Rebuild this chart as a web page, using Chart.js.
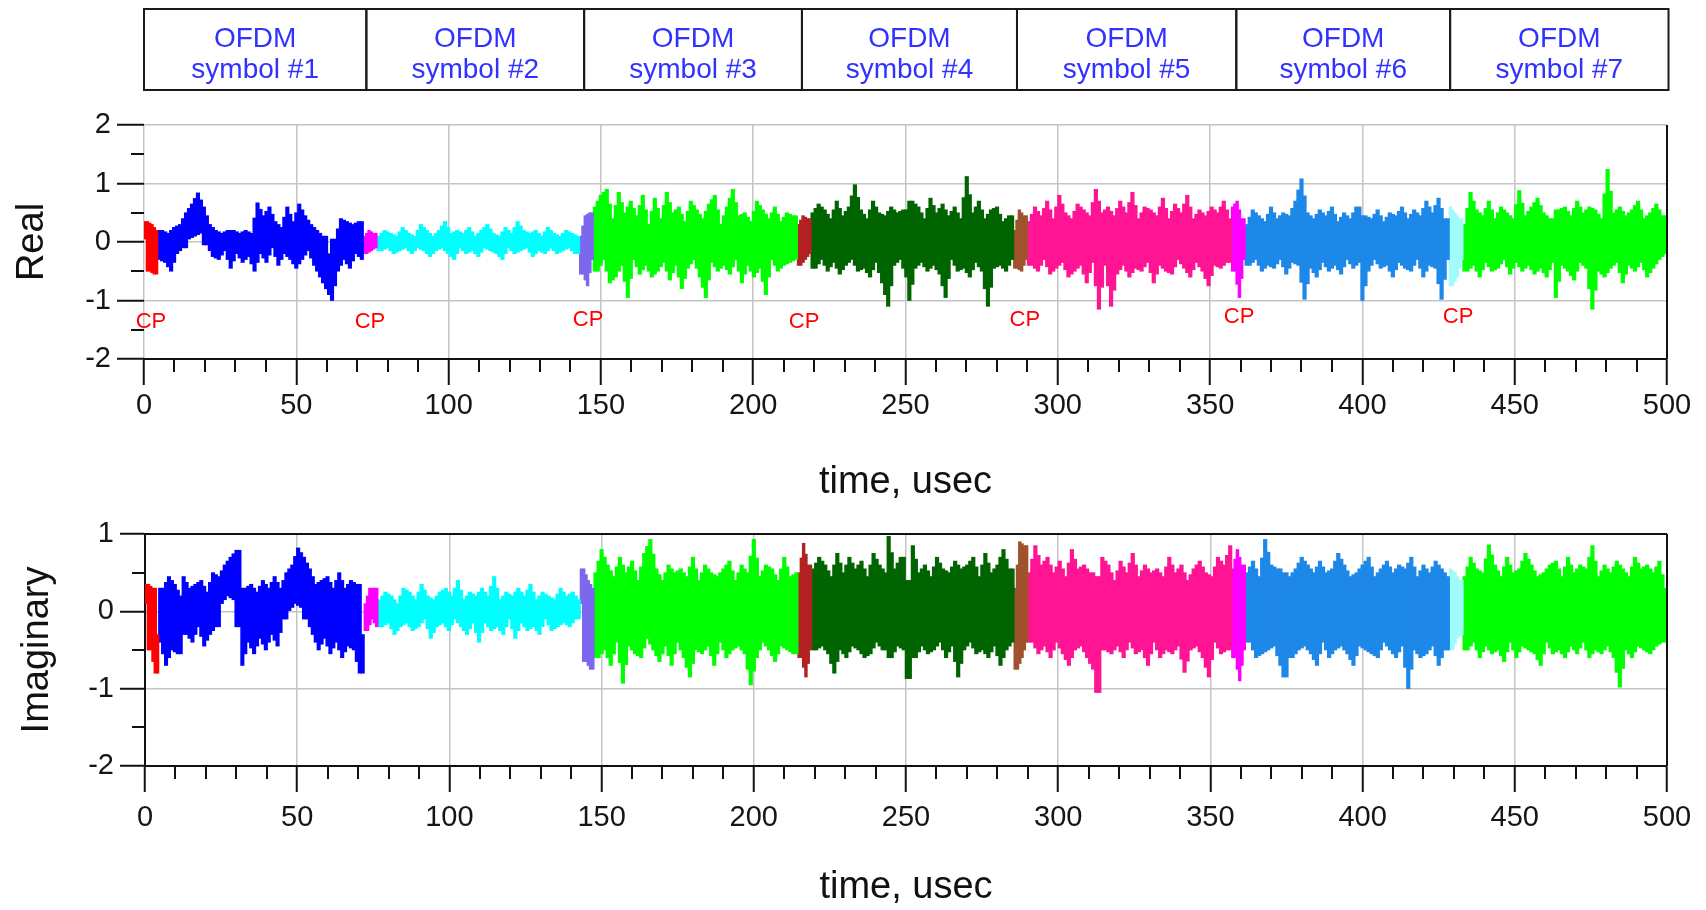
<!DOCTYPE html>
<html>
<head>
<meta charset="utf-8">
<script src="https://cdn.jsdelivr.net/npm/chart.js@4.4.0/dist/chart.umd.min.js"></script>
<style>
  html, body { margin: 0; padding: 0; background: #fff; }
  #wrap { position: relative; width: 1706px; height: 910px; overflow: hidden; }
  #realChart { position: absolute; left: 0; top: 0; }
  #imagChart { position: absolute; left: 0; top: 510px; }
</style>
</head>
<body>
<div id="wrap">
  <canvas id="realChart" width="1706" height="510"></canvas>
  <canvas id="imagChart" width="1706" height="400"></canvas>
</div>
<script>
// time segments (usec): CP, symbol, CP, symbol ...
const segStart = [0, 4.5, 72, 76.5, 143, 147.5, 214.5, 219, 285.5, 290, 357, 361.5, 428.5, 433];
const segEnd = [4.5, 72, 76.5, 143, 147.5, 214.5, 219, 285.5, 290, 357, 361.5, 428.5, 433, 500];
const segColors = ['#ff0000', '#0000ff', '#ff00ff', '#00ffff', '#7b68ee', '#00ff00', '#b22222',
                   '#006400', '#a0522d', '#ff1493', '#ff00ff', '#1e88e8', '#a0fcfc', '#00ff00'];

// header boxes above the top plot
const symbolEdges = [0, 73, 144.5, 216, 286.6, 358.6, 428.8, 500.5];
const symbolLabels = ['symbol #1', 'symbol #2', 'symbol #3', 'symbol #4', 'symbol #5', 'symbol #6', 'symbol #7'];

// "CP" markers in the top plot
const cpLabelT = [2.3, 74.2, 145.8, 216.7, 289.2, 359.5, 431.4];
const cpLabelY = [-1.37, -1.37, -1.34, -1.37, -1.34, -1.28, -1.28];

const xTicks = [0, 50, 100, 150, 200, 250, 300, 350, 400, 450, 500];

// Real part
const re_cp1 = [0.05, 0.35, -0.5, 0.3, -0.55, 0.2];
const re_sym1 = [-0.3, 0.2, -0.35, 0.15, -0.5, 0.25, -0.2,
  0.3, -0.1, 0.5, 0.05, 0.65, 0.1, 0.84, 0.15, 0.6, -0.05,
  0.3, -0.25, 0.2, -0.3, 0.15, -0.15, 0.2, -0.45, 0.2, -0.2, 0.15, -0.35, 0.2, -0.25,
  0.15, -0.5, 0.67, -0.2, 0.45, -0.35, 0.6, -0.1, 0.35, -0.4, 0.25,
  -0.2, 0.6, -0.3, 0.35, -0.45, 0.65, -0.3, 0.45, -0.15, 0.3,
  -0.4, 0.2, -0.6, 0.1, -0.8, -0.2, -1.0, 0.05,
  -0.5, 0.4, -0.3, 0.35, -0.45, 0.3, -0.2, 0.35, -0.3];
const re_cp2 = [0.1, -0.2, 0.2, -0.15, 0.15, -0.1];
const re_sym2 = [0.1, -0.15, 0.2, -0.1, 0.15, -0.2, 0.1, -0.15, 0.25, -0.1, 0.15, -0.2, 0.1, -0.1,
  0.3, -0.15, 0.2, -0.25, 0.1, -0.15, 0.2, -0.1, 0.35, -0.2, 0.15, -0.3, 0.2, -0.1, 0.15, -0.2,
  0.25, -0.15, 0.1, -0.25, 0.2, -0.1, 0.3, -0.15, 0.15, -0.2, 0.1, -0.3, 0.25, -0.1, 0.15, -0.2,
  0.35, -0.15, 0.2, -0.1, 0.15, -0.25, 0.2, -0.15, 0.1, -0.2, 0.25, -0.1, 0.15, -0.2, 0.1, -0.15,
  0.2, -0.1, 0.15, -0.2, 0.1];
const re_cp3 = [0.1, -0.55, 0.45, -0.75, 0.5, -0.3];
const re_sym3 = [0.6, -0.5, 0.8, -0.3, 0.9, -0.7, 0.4, -0.6, 0.85, -0.4, 0.5, -0.95, 0.7, -0.3,
  0.45, -0.55, 0.8, -0.4, 0.3, -0.6, 0.75, -0.5, 0.4, -0.35, 0.85, -0.65, 0.5, -0.4, 0.6, -0.8,
  0.35, -0.45, 0.7, -0.3, 0.55, -0.6, 0.4, -0.95, 0.65, -0.35, 0.8, -0.5, 0.3, -0.4, 0.6, -0.55,
  0.9, -0.3, 0.45, -0.7, 0.5, -0.4, 0.35, -0.6, 0.7, -0.45, 0.55, -0.9, 0.4, -0.3, 0.6, -0.5,
  0.35, -0.4, 0.5, -0.35, 0.45, -0.3];
const re_cp4 = [0.3, -0.4, 0.45, -0.3, 0.4, -0.2];
const re_sym4 = [0.5, -0.45, 0.65, -0.3, 0.55, -0.5, 0.4, -0.35, 0.7, -0.55, 0.45, -0.4, 0.6, -0.3,
  0.98, -0.5, 0.55, -0.45, 0.4, -0.6, 0.7, -0.35, 0.5, -0.7, 0.45, -1.1, 0.6, -0.4, 0.5, -0.3,
  0.55, -0.6, -1.0, 0.7, -0.45, 0.6, -0.35, 0.4, -0.5, 0.75, -0.4, 0.5, -0.55, 0.65, -0.95, 0.45,
  -0.3, 0.6, -0.5, 0.4, -0.45, 1.12, -0.6, 0.5, -0.35, 0.7, -0.5, 0.4, -1.1, 0.55, -0.45, 0.6,
  -0.4, 0.35, -0.5, 0.45, -0.3];
const re_cp5 = [0.2, -0.45, 0.55, -0.5, 0.45, -0.3];
const re_sym5 = [0.35, -0.4, 0.6, -0.5, 0.45, -0.3, 0.7, -0.55, 0.4, -0.45, 0.8, -0.35, 0.5, -0.6,
  0.4, -0.5, 0.65, -0.4, 0.55, -0.7, 0.45, -0.35, 0.9, -1.15, 0.5, -0.4, 0.6, -1.1, 0.45, -0.55,
  0.7, -0.4, 0.5, -0.6, 0.85, -0.45, 0.4, -0.5, 0.6, -0.35, 0.55, -0.7, 0.45, -0.4, 0.75, -0.5,
  0.4, -0.55, 0.65, -0.3, 0.5, -0.45, 0.8, -0.6, 0.4, -0.35, 0.55, -0.5, 0.45, -0.75, 0.6, -0.4,
  0.5, -0.45, 0.7, -0.35, 0.4];
const re_cp6 = [0.6, -0.5, 0.7, -0.95, 0.4, -0.3];
const re_sym6 = [0.3, -0.4, 0.55, -0.3, 0.45, -0.5, 0.35, -0.4, 0.6, -0.45, 0.4, -0.3, 0.5, -0.55,
  0.45, -0.35, 0.7, -0.4, 1.08, -0.98, 0.5, -0.45, 0.4, -0.6, 0.55, -0.35, 0.45, -0.5, 0.6, -0.4,
  0.35, -0.55, 0.5, -0.3, 0.4, -0.45, 0.6, -0.35, -1.0, 0.45, -0.5, 0.4, -0.3, 0.55, -0.45, 0.35,
  -0.4, 0.5, -0.6, 0.45, -0.35, 0.6, -0.45, 0.4, -0.5, 0.55, -0.3, 0.45, -0.6, 0.7, -0.4, 0.5,
  -0.45, 0.75, -0.98, 0.4, -0.3];
const re_cp7 = [0.6, -0.75, 0.5, -0.6, 0.4, -0.3];
const re_sym7 = [0.3, -0.5, 0.85, -0.4, 0.55, -0.6, 0.45, -0.35, 0.7, -0.5,
  0.4, -0.45, 0.6, -0.3, 0.5, -0.55, 0.4, -0.35, 0.88, -0.5,
  0.45, -0.4, 0.6, -0.55, 0.75, -0.45, 0.5, -0.6, 0.4, -0.35,
  -0.95, 0.55, -0.4, 0.6, -0.5, 0.45, -0.65, 0.7, -0.35, 0.5,
  -0.45, 0.6, -1.15, 0.55, -0.5, 0.4, -0.6, 1.24, -0.45, 0.5,
  -0.35, 0.6, -0.7, 0.45, -0.4, 0.55, -0.5, 0.7, -0.35, 0.4,
  -0.6, 0.5, -0.45, 0.65, -0.3, 0.45, -0.2];

// Imaginary part
const im_cp1 = [0.1, 0.35, -0.5, 0.3, -0.8, -0.3];
const im_sym1 = [-0.4, 0.3, -0.7, 0.45, -0.5, 0.35, -0.55, 0.2,
  0.45, -0.3, 0.3, -0.4, 0.35, -0.2, 0.4, -0.45, 0.25, -0.3, 0.5, -0.2, 0.45,
  0.1, 0.6, 0.2, 0.7, 0.15, 0.79, -0.2, -0.7,
  0.3, -0.4, 0.35, -0.55, 0.25, -0.35, 0.4, -0.5, 0.3, -0.3, 0.45, -0.45, 0.3, -0.1,
  0.5, 0, 0.6, 0.1, 0.82, 0.05, 0.7, -0.1, 0.55, -0.3,
  0.35, -0.5, 0.4, -0.35, 0.45, -0.55, 0.3, -0.4, 0.5, -0.6, 0.3, -0.45, 0.4, -0.5, 0.35, -0.8, -0.3];
const im_cp2 = [0.1, -0.25, 0.3, -0.1, 0.3, -0.2];
const im_sym2 = [0.15, -0.2, 0.25, -0.15, 0.2, -0.3, 0.1, -0.2, 0.3, -0.15, 0.25, -0.25, 0.15, -0.2,
  0.35, -0.1, 0.2, -0.35, 0.15, -0.2, 0.25, -0.15, 0.3, -0.25, 0.2, -0.1, 0.4, -0.2, 0.15, -0.3,
  0.25, -0.15, 0.2, -0.4, 0.3, -0.15, 0.2, -0.25, 0.45, -0.2, 0.15, -0.3, 0.25, -0.1, 0.2, -0.35,
  0.3, -0.15, 0.2, -0.25, 0.35, -0.2, 0.15, -0.3, 0.25, -0.1, 0.2, -0.25, 0.15, -0.2, 0.3, -0.15,
  0.2, -0.2, 0.25, -0.1, 0.15];
const im_cp3 = [0.1, 0.55, -0.65, 0.4, -0.75, 0.3];
const im_sym3 = [0.5, -0.6, 0.8, -0.5, 0.6, -0.7, 0.45, -0.4, 0.7, -0.93, 0.5, -0.45, 0.65, -0.55,
  0.4, -0.6, 0.75, -0.35, 0.93, -0.5, 0.55, -0.65, 0.4, -0.45, 0.6, -0.7, 0.5, -0.4, 0.55, -0.6,
  0.45, -0.85, 0.7, -0.5, 0.4, -0.55, 0.6, -0.45, 0.5, -0.7, 0.45, -0.4, 0.55, -0.6, 0.65, -0.5,
  0.4, -0.45, 0.6, -0.55, 0.5, -0.95, 0.93, -0.6, 0.45, -0.4, 0.6, -0.5, 0.55, -0.65, 0.4, -0.45,
  0.7, -0.5, 0.45, -0.55, 0.5];
const im_cp4 = [0.5, -0.6, 0.88, -0.85, 0.6, -0.5];
const im_sym4 = [0.55, -0.5, 0.7, -0.45, 0.6, -0.55, 0.45, -0.8, 0.75, -0.5, 0.5, -0.6, 0.7, -0.45,
  0.55, -0.5, 0.65, -0.6, 0.45, -0.55, 0.75, -0.4, 0.6, -0.5, 0.5, 0.97, -0.6, 0.55, -0.45, 0.7,
  -0.5, -0.87, 0.4, 0.85, -0.6, 0.5, -0.45, 0.6, -0.55, 0.45, -0.5, 0.7, -0.4, 0.55, -0.6, 0.5,
  -0.45, 0.65, -0.85, 0.55, -0.5, 0.6, -0.4, 0.7, -0.55, 0.45, -0.5, 0.75, -0.6, 0.5, -0.45, 0.6,
  -0.7, 0.8, -0.5, 0.55, -0.4];
const im_cp5 = [0.3, -0.75, 0.9, -0.6, 0.85, -0.4];
const im_sym5 = [0.5, -0.4, 0.85, -0.55, 0.6, -0.45, 0.7, -0.6, 0.5, -0.4, 0.65, -0.55, 0.45, -0.7,
  0.8, -0.5, 0.55, -0.45, 0.6, -0.6, 0.5, -0.75, -1.05, 0.45, 0.7, -0.5, 0.6, -0.55, 0.4, -0.45,
  0.65, -0.6, 0.5, -0.4, 0.75, -0.55, 0.45, -0.5, 0.6, -0.7, 0.5, -0.4, 0.55, -0.6, 0.45, -0.5,
  0.7, -0.55, 0.5, -0.45, 0.6, -0.79, 0.4, -0.5, 0.55, -0.45, 0.65, -0.6, 0.5, -0.85, 0.45, -0.4,
  0.7, -0.55, 0.6, -0.5, 0.85];
const im_cp6 = [0.55, -0.6, 0.8, -0.9, 0.6, -0.5];
const im_sym6 = [0.5, -0.4, 0.65, -0.6, 0.45, -0.55, 0.93, -0.5, 0.6, -0.45, 0.55, -0.7, -0.85, 0.5,
  0.45, -0.6, 0.55, -0.5, 0.7, -0.45, 0.6, -0.55, 0.5, -0.7, 0.65, -0.4, 0.5, -0.6, 0.55, -0.5,
  0.75, -0.45, 0.6, -0.55, 0.45, -0.7, 0.5, -0.45, 0.6, -0.5, 0.7, -0.55, 0.45, -0.6, 0.55, -0.4,
  0.65, -0.5, 0.5, -0.6, 0.6, -0.45, 0.55, -1.0, 0.7, -0.5, 0.45, -0.6, 0.6, -0.55, 0.5, -0.45,
  0.65, -0.7, 0.55, -0.5, 0.45];
const im_cp7 = [0.55, -0.5, 0.5, -0.35, 0.4, -0.3];
const im_sym7 = [0.45, -0.5, 0.7, -0.4, 0.55, -0.6, 0.5, -0.45, 0.86, -0.55, 0.6, -0.5, 0.45, -0.65,
  0.7, -0.4, 0.5, -0.6, 0.55, -0.45, 0.75, -0.5, 0.6, -0.55, 0.45, -0.7, 0.5, -0.4, 0.6, -0.55,
  0.65, -0.5, 0.45, -0.6, 0.7, -0.45, 0.5, -0.55, 0.6, -0.4, 0.55, -0.6, 0.85, -0.5, 0.45, -0.55,
  0.6, -0.45, 0.5, -0.6, 0.65, -0.98, 0.55, -0.5, 0.45, -0.6, 0.7, -0.45, 0.55, -0.5, 0.6, -0.55,
  0.5, -0.45, 0.65, -0.4, 0.3];

const realSegments = [re_cp1, re_sym1, re_cp2, re_sym2, re_cp3, re_sym3, re_cp4,
                      re_sym4, re_cp5, re_sym5, re_cp6, re_sym6, re_cp7, re_sym7];
const imagSegments = [im_cp1, im_sym1, im_cp2, im_sym2, im_cp3, im_sym3, im_cp4,
                      im_sym4, im_cp5, im_sym5, im_cp6, im_sym6, im_cp7, im_sym7];

const FONT = '"Liberation Sans", Arial, sans-serif';
const GRID = '#c4c4c4';
const PX_PER_US = (1667 - 144) / 500;

// each sample is drawn as a thin vertical stroke, from its own value to the level of its
// neighbours (the opposite-sign ones when there are any), like a dense waveform column
function buildDatasets(segments) {
    return segments.map((vals, k) => {
        const dt = (segEnd[k] - segStart[k]) / vals.length;
        const data = vals.map((v, i) => {
            const nb = [];
            if (i > 0) nb.push(vals[i - 1]);
            if (i < vals.length - 1) nb.push(vals[i + 1]);
            const opp = nb.filter(n => n * v < 0);
            const use = opp.length ? opp : nb;
            const mid = use.reduce((a, b) => a + b, 0) / use.length;
            return { x: segStart[k] + (i + 0.5) * dt, y: [Math.min(v, mid), Math.max(v, mid)] };
        });
        return {
            data: data,
            backgroundColor: segColors[k],
            borderWidth: 0,
            borderSkipped: false,
            grouped: false,
            barThickness: dt * PX_PER_US + 0.5
        };
    });
}

// minor ticks, frame, header boxes and CP labels
const decorPlugin = {
    id: 'decor',
    afterDatasetsDraw(chart, args, opts) {
        const ctx = chart.ctx;
        const x = chart.scales.x;
        const y = chart.scales.y;
        const area = chart.chartArea;
        ctx.save();
        ctx.strokeStyle = '#111';
        ctx.lineWidth = 2;
        ctx.beginPath();
        for (let t = 10; t < 500; t += 10) {
            if (t % 50 === 0) continue;
            const px = Math.round(x.getPixelForValue(t));
            ctx.moveTo(px, area.bottom);
            ctx.lineTo(px, area.bottom + 13);
        }
        for (let v = y.min + 0.5; v < y.max; v += 1) {
            const py = Math.round(y.getPixelForValue(v));
            ctx.moveTo(area.left - 13, py);
            ctx.lineTo(area.left, py);
        }
        // right edge of the frame
        ctx.moveTo(area.right, area.top);
        ctx.lineTo(area.right, area.bottom);
        if (opts.topBorder) {
            ctx.moveTo(area.left, area.top);
            ctx.lineTo(area.right, area.top);
        }
        ctx.stroke();

        if (opts.boxes) {
            ctx.lineWidth = 2;
            ctx.strokeStyle = '#1a1a1a';
            ctx.font = '28px ' + FONT;
            ctx.textAlign = 'center';
            ctx.textBaseline = 'alphabetic';
            ctx.fillStyle = '#3232ff';
            for (let i = 0; i < symbolLabels.length; i++) {
                const x0 = x.getPixelForValue(symbolEdges[i]);
                const x1 = x.getPixelForValue(symbolEdges[i + 1]);
                ctx.strokeRect(x0, 9, x1 - x0, 81);
                ctx.fillText('OFDM', (x0 + x1) / 2, 46.5);
                ctx.fillText(symbolLabels[i], (x0 + x1) / 2, 78);
            }
        }

        if (opts.cp) {
            ctx.font = '22px ' + FONT;
            ctx.fillStyle = '#ff0000';
            ctx.textAlign = 'center';
            ctx.textBaseline = 'middle';
            cpLabelT.forEach((t, i) => {
                ctx.fillText('CP', x.getPixelForValue(t), y.getPixelForValue(cpLabelY[i]));
            });
        }
        ctx.restore();
    }
};

function makeChart(canvasId, segments, cfg) {
    const ctx = document.getElementById(canvasId).getContext('2d');
    return new Chart(ctx, {
        type: 'bar',
        data: { datasets: buildDatasets(segments) },
        options: {
            responsive: false,
            animation: false,
            devicePixelRatio: 1,
            layout: { padding: cfg.padding },
            plugins: {
                legend: { display: false },
                tooltip: { enabled: false },
                decor: cfg.decor
            },
            scales: {
                x: {
                    type: 'linear',
                    min: 0,
                    max: 500,
                    offset: false,
                    afterBuildTicks: (scale) => { scale.ticks = xTicks.map(v => ({ value: v })); },
                    afterFit: (scale) => { scale.height = cfg.xHeight; },
                    ticks: {
                        autoSkip: false,
                        maxRotation: 0,
                        padding: cfg.xTickPad,
                        color: '#151515',
                        font: { size: 29, family: FONT }
                    },
                    grid: {
                        offset: false,
                        color: GRID,
                        lineWidth: 1.5,
                        tickColor: '#111',
                        tickWidth: 2,
                        tickLength: 26
                    },
                    border: { display: true, color: '#111', width: 2 },
                    title: {
                        display: true,
                        text: 'time, usec',
                        color: '#111',
                        padding: { top: 0, bottom: 0 },
                        font: { size: 38, family: FONT }
                    }
                },
                y: {
                    min: cfg.yMin,
                    max: cfg.yMax,
                    afterFit: (scale) => { scale.width = cfg.yWidth; },
                    ticks: {
                        stepSize: 1,
                        padding: 6,
                        color: '#151515',
                        font: { size: 29, family: FONT }
                    },
                    grid: {
                        color: GRID,
                        lineWidth: 1.5,
                        tickColor: '#111',
                        tickWidth: 2,
                        tickLength: cfg.yTickLen
                    },
                    border: { display: cfg.leftBorder, color: '#111', width: 2 },
                    title: {
                        display: true,
                        text: cfg.yTitle,
                        color: '#111',
                        padding: { top: cfg.yTitlePad, bottom: 0 },
                        font: { size: 38, family: FONT }
                    }
                }
            }
        },
        plugins: [decorPlugin]
    });
}

makeChart('realChart', realSegments, {
    padding: { top: 125, right: 39, bottom: 5, left: 0 },
    xHeight: 146, yWidth: 144, yTickLen: 27, xTickPad: 4,
    yMin: -2, yMax: 2, yTitle: 'Real', yTitlePad: 10, leftBorder: false,
    decor: { boxes: true, cp: true, topBorder: false }
});

makeChart('imagChart', imagSegments, {
    padding: { top: 24, right: 39, bottom: 0, left: 0 },
    xHeight: 144, yWidth: 145, yTickLen: 25, xTickPad: 9,
    yMin: -2, yMax: 1, yTitle: 'Imaginary', yTitlePad: 15, leftBorder: true,
    decor: { boxes: false, cp: false, topBorder: true }
});
</script>
</body>
</html>
